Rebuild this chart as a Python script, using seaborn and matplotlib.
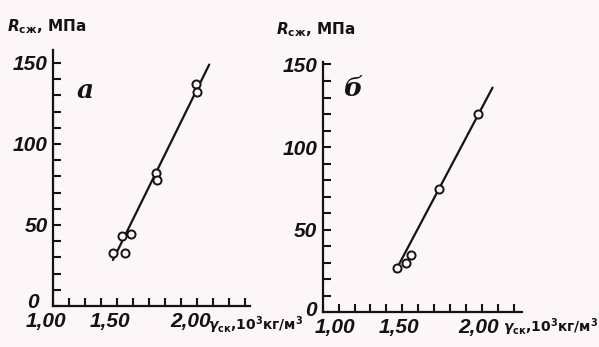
import numpy as np
import pandas as pd
import seaborn as sns
import matplotlib
matplotlib.use("Agg")
import matplotlib.pyplot as plt
from matplotlib.transforms import ScaledTranslation

# ---- data ----
a_density = [1.475, 1.527, 1.548, 1.584, 1.742, 1.750, 1.990, 1.996]
a_strength = [32.6, 42.9, 32.6, 44.5, 82.0, 77.5, 137.3, 132.2]
a_line_density = [1.473, 2.075]
a_line_strength = [28.4, 149.0]

b_density = [1.465, 1.524, 1.553, 1.730, 1.975]
b_strength = [26.6, 29.6, 34.7, 74.4, 119.8]
b_line_density = [1.455, 2.067]
b_line_strength = [24.6, 136.0]

a_xticks = [1.1, 1.2, 1.3, 1.4, 1.5, 1.6, 1.7, 1.8, 1.9, 2.0, 2.1, 2.2, 2.3]
a_xticklabels = ["1,00", "", "", "", "1,50", "", "", "", "", "2,00", "", "", ""]
b_xticks = [1.0, 1.1, 1.2, 1.3, 1.4, 1.5, 1.6, 1.7, 1.8, 1.9, 2.0, 2.1, 2.2]
b_xticklabels = ["1,00", "", "", "", "", "1,50", "", "", "", "", "2,00", "", ""]
yticks = [0, 10, 20, 30, 40, 50, 60, 70, 80, 90, 100, 110, 120, 130, 140, 150]
yticklabels = ["0", "", "", "", "", "50", "", "", "", "", "100", "", "", "", "", "150"]

panel_letters = ["а", "б"]
y_title = r"$\boldsymbol{R}_{\mathbf{сж}}$, МПа"
x_title = r"$\boldsymbol{\gamma}_{\mathbf{ск}}$,$\mathbf{10}^{\mathbf{3}}$кг/м$^{\mathbf{3}}$"

# ---- style ----
sns.set_theme(style="white")
BG = "#fcf6f9"
INK = "#141214"
plt.rcParams["font.family"] = ["DejaVu Sans"]
plt.rcParams["axes.facecolor"] = BG
plt.rcParams["figure.facecolor"] = BG

W, H = 599, 347
fig = plt.figure(figsize=(W / 100, H / 100), dpi=100)

def px_axes(x0, y_bottom, x1, y_top):
    return fig.add_axes([x0 / W, 1 - y_bottom / H, (x1 - x0) / W, (y_bottom - y_top) / H])

ax_a = px_axes(53.3, 306.0, 250.0, 50.0)
ax_b = px_axes(322.7, 312.3, 521.7, 62.0)

tick_font = dict(family=["Liberation Sans Narrow", "DejaVu Sans Condensed",
                         "Liberation Sans", "DejaVu Sans"],
                 style="italic", weight="bold", size=15)

def draw_panel(ax, xs, ys, lx, ly, xlim, ylim, xticks, xlabels):
    sns.lineplot(x=lx, y=ly, ax=ax, color=INK, linewidth=1.6, zorder=2)
    sns.scatterplot(x=xs, y=ys, ax=ax, marker="o", s=34, facecolor=BG,
                    edgecolor=INK, linewidth=1.4, zorder=3)
    ax.set_xlim(*xlim)
    ax.set_ylim(*ylim)
    ax.set_xticks(xticks)
    ax.set_xticklabels(xlabels, **tick_font)
    ax.set_yticks(yticks)
    ax.set_yticklabels(yticklabels, **tick_font)
    ax.tick_params(axis="both", direction="in", length=6, width=1.5, color=INK,
                   labelcolor=INK, bottom=True, left=True, top=False, right=False)
    ax.tick_params(axis="x", pad=4)
    ax.tick_params(axis="y", pad=4)
    for s in ["top", "right"]:
        ax.spines[s].set_visible(False)
    for s in ["left", "bottom"]:
        ax.spines[s].set_color(INK)
        ax.spines[s].set_linewidth(1.6)
    ax.set_xlabel("")
    ax.set_ylabel("")
    ax.grid(False)

draw_panel(ax_a, a_density, a_strength, a_line_density, a_line_strength,
           (1.1, 2.33), (0, 158), a_xticks, a_xticklabels)
draw_panel(ax_b, b_density, b_strength, b_line_density, b_line_strength,
           (1.0, 2.25), (0, 151.5), b_xticks, b_xticklabels)

def shift(label, dx_px, dy_px=0):
    label.set_transform(label.get_transform() +
                        ScaledTranslation(dx_px / 100, dy_px / 100, fig.dpi_scale_trans))

for lbl in ax_a.get_xticklabels():
    shift(lbl, -7)
shift(ax_a.get_yticklabels()[0], -9, 5)
shift(ax_b.get_yticklabels()[0], 0, 4)
shift(ax_b.get_xticklabels()[0], 12)
for lbl in ax_b.get_xticklabels()[1:]:
    shift(lbl, -3)

title_font = dict(color=INK, fontsize=11, fontweight="bold", va="center", ha="left")
fig.text(7 / W, 1 - 27 / H, y_title, **title_font)
fig.text(276 / W, 1 - 30 / H, y_title, **title_font)

xt_font = dict(color=INK, fontsize=10, fontweight="bold", va="center", ha="left")
fig.text(208 / W, 1 - 325 / H, x_title, **xt_font)
fig.text(503 / W, 1 - 327 / H, x_title, **xt_font)

letter_font = dict(color=INK, fontsize=19, family="DejaVu Serif", style="italic",
                   weight="bold", ha="center", va="center")
fig.text(85 / W, 1 - 90 / H, panel_letters[0], **letter_font)
fig.text(353 / W, 1 - 88 / H, panel_letters[1], **letter_font)

fig.savefig("out.png", dpi=100, facecolor=BG)
